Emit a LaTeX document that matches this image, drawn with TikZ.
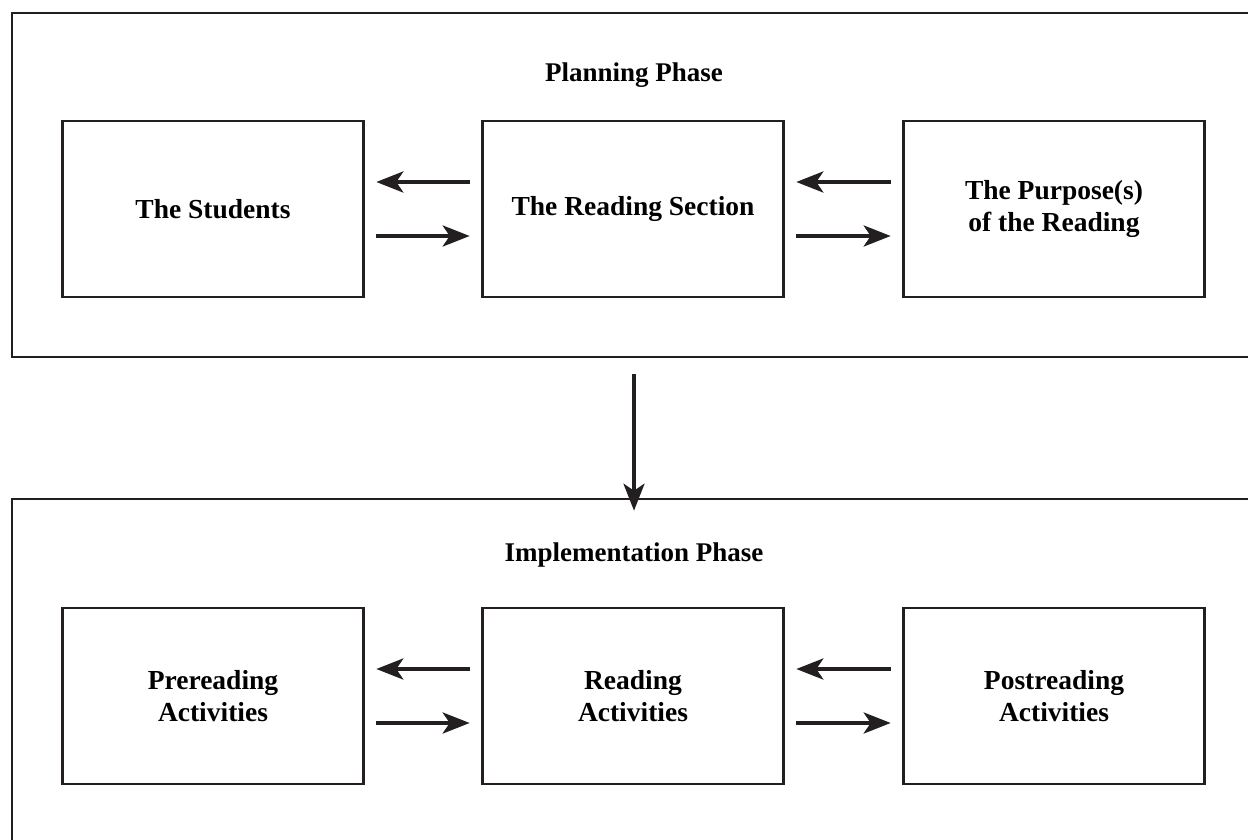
\documentclass[tikz,border=0pt]{standalone}
\usepackage{fontspec}
\setmainfont{Liberation Serif}
\usepackage{tikz}
\definecolor{ink}{HTML}{231F20}
\usetikzlibrary{arrows.meta}
\tikzset{
    phasebox/.style = {draw=ink, line width=2.6pt, minimum width=1248pt, inner sep=0pt},
    stagebox/.style = {draw=ink, line width=2.6pt, minimum width=301pt, minimum height=176pt,
        align=center, inner sep=0pt, font=\fontsize{27.5}{32}\selectfont\bfseries},
    phasetitle/.style = {font=\fontsize{27}{32}\selectfont\bfseries},
    arr/.style = {draw=ink, line width=4pt, shorten <=11.5pt, shorten >=11.5pt,
        -{Stealth[length=27pt, width=21pt, inset=7pt]}}
}

\begin{document}
\begin{tikzpicture}[line join=miter, x=1pt, y=-1pt]
\useasboundingbox (0,0) rectangle (1248,840);
\clip (0,0) rectangle (1248,840);
% phases
\node [phasebox, minimum height=344pt] (plan) at (636,185) {};
\node [phasebox, minimum height=361pt] (impl) at (636,679.5) {};
\node [phasetitle] (plantitle) at (634,75) {Planning Phase};
\node [phasetitle] (impltitle) at (634,555) {Implementation Phase};
% planning
\node [stagebox] (students) at (213,209) {The Students};
\node [stagebox] (section) at (633,209) {The Reading Section};
\node [stagebox] (purpose) at (1054,209) {The Purpose(s)\\of the Reading};
% implementation
\node [stagebox] (pre) at (213,696) {Prereading\\Activities};
\node [stagebox] (during) at (633,696) {Reading\\Activities};
\node [stagebox] (post) at (1054,696) {Postreading\\Activities};
% arrows
\draw [arr] ([yshift=27pt]section.west) -- ([yshift=27pt]students.east);
\draw [arr] ([yshift=-27pt]students.east) -- ([yshift=-27pt]section.west);
\draw [arr] ([yshift=27pt]purpose.west) -- ([yshift=27pt]section.east);
\draw [arr] ([yshift=-27pt]section.east) -- ([yshift=-27pt]purpose.west);
\draw [arr] ([yshift=27pt]during.west) -- ([yshift=27pt]pre.east);
\draw [arr] ([yshift=-27pt]pre.east) -- ([yshift=-27pt]during.west);
\draw [arr] ([yshift=27pt]post.west) -- ([yshift=27pt]during.east);
\draw [arr] ([yshift=-27pt]during.east) -- ([yshift=-27pt]post.west);
\draw [arr, line width=3.5pt, shorten <=16pt, shorten >=-13pt] ([xshift=-2pt]plan.south) -- ([xshift=-2pt]impl.north);
\end{tikzpicture}
\end{document}
